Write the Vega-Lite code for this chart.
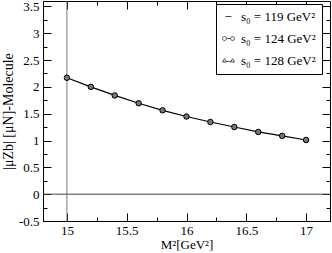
{
  "$schema": "https://vega.github.io/schema/vega-lite/v6.json",
  "autosize": "none",
  "width": 287,
  "height": 220,
  "padding": {"left": 43, "top": 1, "right": 2, "bottom": 32},
  "background": "white",
  "config": {
    "view": {"stroke": "black", "strokeWidth": 1},
    "font": "Liberation Serif",
    "axis": {
      "grid": false,
      "domainColor": "black",
      "tickColor": "black",
      "labelColor": "black",
      "titleColor": "black",
      "labelFont": "Liberation Serif",
      "titleFont": "Liberation Serif",
      "labelFontSize": 13,
      "titleFontSize": 13,
      "titleFontWeight": "normal",
      "labelFlush": false,
      "labelOverlap": false
    },
    "legend": {
      "orient": "none",
      "legendX": 173,
      "legendY": 3,
      "strokeColor": "black",
      "fillColor": "white",
      "padding": 6,
      "labelFont": "Liberation Serif",
      "labelFontSize": 13,
      "labelColor": "black",
      "symbolSize": 144,
      "symbolStrokeColor": "black",
      "symbolFillColor": "transparent",
      "symbolStrokeWidth": 1,
      "rowPadding": 8,
      "labelOffset": 6
    }
  },
  "datasets": {
    "curves": [
      {"M2": 15.0, "mu": 2.17, "s0": "s₀ = 119 GeV²"},
      {"M2": 15.2, "mu": 2.0, "s0": "s₀ = 119 GeV²"},
      {"M2": 15.4, "mu": 1.84, "s0": "s₀ = 119 GeV²"},
      {"M2": 15.6, "mu": 1.695, "s0": "s₀ = 119 GeV²"},
      {"M2": 15.8, "mu": 1.563, "s0": "s₀ = 119 GeV²"},
      {"M2": 16.0, "mu": 1.447, "s0": "s₀ = 119 GeV²"},
      {"M2": 16.2, "mu": 1.345, "s0": "s₀ = 119 GeV²"},
      {"M2": 16.4, "mu": 1.252, "s0": "s₀ = 119 GeV²"},
      {"M2": 16.6, "mu": 1.16, "s0": "s₀ = 119 GeV²"},
      {"M2": 16.8, "mu": 1.087, "s0": "s₀ = 119 GeV²"},
      {"M2": 17.0, "mu": 1.01, "s0": "s₀ = 119 GeV²"},
      {"M2": 15.0, "mu": 2.17, "s0": "s₀ = 124 GeV²"},
      {"M2": 15.2, "mu": 2.0, "s0": "s₀ = 124 GeV²"},
      {"M2": 15.4, "mu": 1.84, "s0": "s₀ = 124 GeV²"},
      {"M2": 15.6, "mu": 1.695, "s0": "s₀ = 124 GeV²"},
      {"M2": 15.8, "mu": 1.563, "s0": "s₀ = 124 GeV²"},
      {"M2": 16.0, "mu": 1.447, "s0": "s₀ = 124 GeV²"},
      {"M2": 16.2, "mu": 1.345, "s0": "s₀ = 124 GeV²"},
      {"M2": 16.4, "mu": 1.252, "s0": "s₀ = 124 GeV²"},
      {"M2": 16.6, "mu": 1.16, "s0": "s₀ = 124 GeV²"},
      {"M2": 16.8, "mu": 1.087, "s0": "s₀ = 124 GeV²"},
      {"M2": 17.0, "mu": 1.01, "s0": "s₀ = 124 GeV²"},
      {"M2": 15.0, "mu": 2.17, "s0": "s₀ = 128 GeV²"},
      {"M2": 15.2, "mu": 2.0, "s0": "s₀ = 128 GeV²"},
      {"M2": 15.4, "mu": 1.84, "s0": "s₀ = 128 GeV²"},
      {"M2": 15.6, "mu": 1.695, "s0": "s₀ = 128 GeV²"},
      {"M2": 15.8, "mu": 1.563, "s0": "s₀ = 128 GeV²"},
      {"M2": 16.0, "mu": 1.447, "s0": "s₀ = 128 GeV²"},
      {"M2": 16.2, "mu": 1.345, "s0": "s₀ = 128 GeV²"},
      {"M2": 16.4, "mu": 1.252, "s0": "s₀ = 128 GeV²"},
      {"M2": 16.6, "mu": 1.16, "s0": "s₀ = 128 GeV²"},
      {"M2": 16.8, "mu": 1.087, "s0": "s₀ = 128 GeV²"},
      {"M2": 17.0, "mu": 1.01, "s0": "s₀ = 128 GeV²"}
    ]
  },
  "resolve": {"axis": {"x": "independent", "y": "independent"}},
  "layer": [
    {
      "data": {"values": [{"M2": 15}]},
      "mark": {"type": "rule", "color": "#777", "strokeWidth": 1},
      "encoding": {
        "x": {
          "field": "M2",
          "type": "quantitative",
          "scale": {"domain": [14.8, 17.2], "nice": false, "zero": false},
          "axis": {
            "orient": "bottom",
            "values": [15, 15.25, 15.5, 15.75, 16, 16.25, 16.5, 16.75, 17],
            "format": "~g",
            "tickSize": {"condition": {"test": "datum.value % 0.5 === 0", "value": -8}, "value": -4},
            "labelExpr": "datum.value % 0.5 === 0 ? datum.label : ''",
            "labelPadding": 11,
            "title": "M²[GeV²]",
            "titlePadding": -3
          }
        }
      }
    },
    {
      "data": {"values": [{"mu": 0}]},
      "mark": {"type": "rule", "color": "#444", "strokeWidth": 1},
      "encoding": {
        "y": {
          "field": "mu",
          "type": "quantitative",
          "scale": {"domain": [-0.5, 3.6], "nice": false, "zero": false},
          "axis": {
            "orient": "left",
            "values": [-0.5, -0.25, 0, 0.25, 0.5, 0.75, 1, 1.25, 1.5, 1.75, 2, 2.25, 2.5, 2.75, 3, 3.25, 3.5],
            "format": "~g",
            "tickSize": {"condition": {"test": "datum.value % 0.5 === 0", "value": -8}, "value": -4},
            "labelExpr": "datum.value % 0.5 === 0 ? replace(datum.label, '−', '-') : ''",
            "labelPadding": 12,
            "title": "|μZb| [μN]-Molecule",
            "titleFontSize": 14,
            "titlePadding": 3
          }
        }
      }
    },
    {
      "data": {"name": "curves"},
      "transform": [{"filter": "datum.s0 === 's₀ = 119 GeV²'"}],
      "mark": {"type": "line", "color": "black", "strokeWidth": 1.2},
      "encoding": {
        "x": {
          "field": "M2", "type": "quantitative",
          "axis": {
            "orient": "top",
            "values": [15, 15.25, 15.5, 15.75, 16, 16.25, 16.5, 16.75, 17],
            "tickSize": {"condition": {"test": "datum.value % 0.5 === 0", "value": -8}, "value": -4},
            "labels": false, "title": null, "domain": false
          }
        },
        "y": {
          "field": "mu", "type": "quantitative",
          "axis": {
            "orient": "right",
            "values": [-0.5, -0.25, 0, 0.25, 0.5, 0.75, 1, 1.25, 1.5, 1.75, 2, 2.25, 2.5, 2.75, 3, 3.25, 3.5],
            "tickSize": {"condition": {"test": "datum.value % 0.5 === 0", "value": -8}, "value": -4},
            "labels": false, "title": null, "domain": false
          }
        }
      }
    },
    {
      "data": {"name": "curves"},
      "transform": [{"filter": "datum.s0 === 's₀ = 128 GeV²'"}],
      "mark": {"type": "point", "shape": "triangle-up", "size": 18, "filled": false, "color": "black", "strokeWidth": 1, "opacity": 1},
      "encoding": {
        "x": {"field": "M2", "type": "quantitative", "axis": null},
        "y": {"field": "mu", "type": "quantitative", "axis": null}
      }
    },
    {
      "data": {"name": "curves"},
      "transform": [{"filter": "datum.s0 === 's₀ = 124 GeV²'"}],
      "mark": {"type": "point", "shape": "circle", "size": 30, "fill": "#777", "stroke": "black", "strokeWidth": 1, "opacity": 1},
      "encoding": {
        "x": {"field": "M2", "type": "quantitative", "axis": null},
        "y": {"field": "mu", "type": "quantitative", "axis": null}
      }
    },
    {
      "data": {"name": "curves"},
      "transform": [{"filter": "false"}],
      "mark": {"type": "point", "filled": false, "color": "black", "size": 144},
      "encoding": {
        "x": {"field": "M2", "type": "quantitative", "axis": null},
        "y": {"field": "mu", "type": "quantitative", "axis": null},
        "shape": {
          "field": "s0", "type": "nominal",
          "scale": {
            "domain": ["s₀ = 119 GeV²", "s₀ = 124 GeV²", "s₀ = 128 GeV²"],
            "range": [
              "M-0.5,0L0.5,0",
              "M-1,0A0.33,0.33 0 1,0 -0.34,0A0.33,0.33 0 1,0 -1,0M-0.34,0L0.34,0M0.34,0A0.33,0.33 0 1,0 1,0A0.33,0.33 0 1,0 0.34,0",
              "M-1,0.25L-0.67,-0.3L-0.34,0.25Z M-0.34,0.15L0.34,0.15 M0.34,0.25L0.67,-0.3L1,0.25Z"
            ]
          },
          "legend": {"title": null}
        }
      }
    }
  ]
}
